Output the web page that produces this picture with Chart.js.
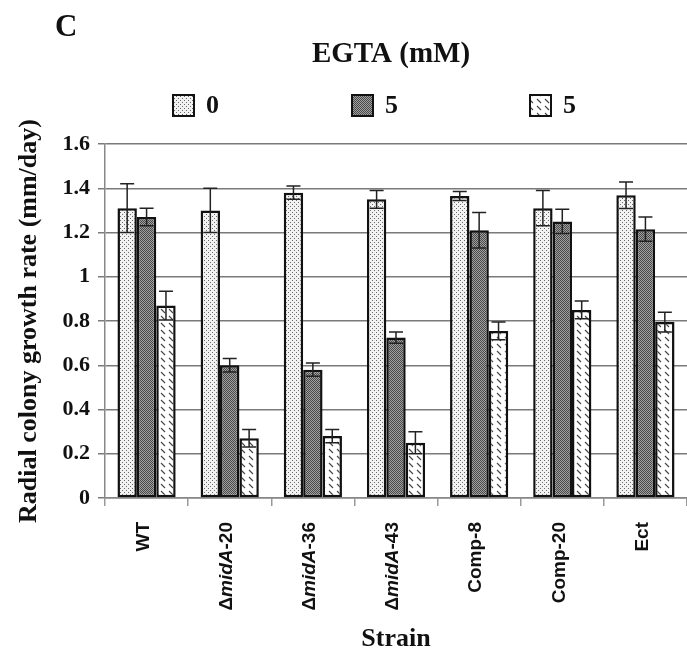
<!DOCTYPE html>
<html>
<head>
<meta charset="utf-8">
<script src="https://cdn.jsdelivr.net/npm/chart.js@4.4.1/dist/chart.umd.min.js"></script>
<style>
  html, body { margin: 0; padding: 0; background: #fff; }
  #wrap { width: 687px; height: 663px; position: relative; }
</style>
</head>
<body>
<div id="wrap"><canvas id="chart"></canvas></div>
<script>
/* Radial colony growth vs EGTA, panel C */
const strains = ['WT', 'ΔmidA-20', 'ΔmidA-36', 'ΔmidA-43', 'Comp-8', 'Comp-20', 'Ect'];
const legendLabels = ['0', '5', '5'];

const egta0 = [1.31, 1.30, 1.38, 1.35, 1.365, 1.31, 1.368];
const egta5a = [1.27, 0.60, 0.58, 0.725, 1.21, 1.25, 1.215];
const egta5b = [0.87, 0.27, 0.28, 0.25, 0.755, 0.85, 0.795];

const err0 = [0.11, 0.10, 0.03, 0.04, 0.02, 0.08, 0.06];
const err5a = [0.04, 0.03, 0.03, 0.025, 0.08, 0.055, 0.055];
const err5b = [0.065, 0.04, 0.03, 0.05, 0.04, 0.04, 0.045];

const yTicks = [0, 0.2, 0.4, 0.6, 0.8, 1, 1.2, 1.4, 1.6];

const SERIF = '"Liberation Serif", "Times New Roman", serif';
const SANS = '"Liberation Sans", Arial, sans-serif';

function makePattern(kind) {
    const c = document.createElement('canvas');
    const ctx = c.getContext('2d');
    if (kind === 'light') {
        c.width = 4; c.height = 4;
        ctx.fillStyle = '#f2f2f2';
        ctx.fillRect(0, 0, 4, 4);
        ctx.fillStyle = '#6a6a6a';
        ctx.fillRect(0, 0, 1, 1);
        ctx.fillRect(2, 2, 1, 1);
    } else if (kind === 'dark') {
        c.width = 2; c.height = 2;
        ctx.fillStyle = '#a0a0a0';
        ctx.fillRect(0, 0, 2, 2);
        ctx.fillStyle = '#4a4a4a';
        ctx.fillRect(0, 0, 1, 1);
        ctx.fillRect(1, 1, 1, 1);
    } else {
        c.width = 8; c.height = 7;
        ctx.fillStyle = '#ffffff';
        ctx.fillRect(0, 0, 8, 7);
        ctx.strokeStyle = '#444';
        ctx.lineWidth = 1.1;
        ctx.beginPath();
        ctx.moveTo(1, 1);
        ctx.lineTo(5, 5);
        ctx.stroke();
    }
    return ctx.createPattern(c, 'repeat');
}

const fills = [makePattern('light'), makePattern('dark'), makePattern('hatch')];
const seriesValues = [egta0, egta5a, egta5b];
const seriesErrors = [err0, err5a, err5b];

const headerPlugin = {
    id: 'header',
    afterDraw(chart) {
        const ctx = chart.ctx;
        ctx.save();
        ctx.fillStyle = '#111';
        ctx.textBaseline = 'middle';
        ctx.font = 'bold 31px ' + SERIF;
        ctx.textAlign = 'left';
        ctx.fillText('C', 55, 28);
        ctx.font = 'bold 29px ' + SERIF;
        ctx.textAlign = 'center';
        ctx.fillText('EGTA (mM)', 391, 55);

        const boxX = [173, 352, 530];
        const boxY = 95, box = 21;
        ctx.font = 'bold 26px ' + SERIF;
        ctx.textAlign = 'left';
        chart.data.datasets.forEach((ds, i) => {
            ctx.fillStyle = ds.backgroundColor;
            ctx.fillRect(boxX[i], boxY, box, box);
            ctx.strokeStyle = '#111';
            ctx.lineWidth = 2;
            ctx.strokeRect(boxX[i], boxY, box, box);
            ctx.fillStyle = '#111';
            ctx.fillText(ds.label, boxX[i] + 33, boxY + box / 2 + 1);
        });
        ctx.restore();
    }
};

const errorBarPlugin = {
    id: 'errorBars',
    afterDatasetsDraw(chart) {
        const ctx = chart.ctx;
        const y = chart.scales.y;
        ctx.save();
        ctx.strokeStyle = '#222';
        ctx.lineWidth = 1.5;
        chart.data.datasets.forEach((ds, i) => {
            const meta = chart.getDatasetMeta(i);
            meta.data.forEach((bar, j) => {
                const v = ds.data[j], e = seriesErrors[i][j];
                const top = y.getPixelForValue(v + e);
                const bot = y.getPixelForValue(v - e);
                ctx.beginPath();
                ctx.moveTo(bar.x, top);
                ctx.lineTo(bar.x, bot);
                ctx.moveTo(bar.x - 7, top);
                ctx.lineTo(bar.x + 7, top);
                ctx.moveTo(bar.x - 7, bot);
                ctx.lineTo(bar.x + 7, bot);
                ctx.stroke();
            });
        });
        ctx.restore();
    }
};

const xLabelPlugin = {
    id: 'xLabels',
    afterDraw(chart) {
        const ctx = chart.ctx;
        const xs = chart.scales.x;
        const yTop = xs.top + 24;
        ctx.save();
        ctx.fillStyle = '#111';
        ctx.textBaseline = 'middle';
        ctx.textAlign = 'left';
        const normal = 'bold 19px ' + SANS;
        const italic = 'italic bold 19px ' + SANS;
        strains.forEach((s, i) => {
            let parts;
            if (s.startsWith('ΔmidA')) {
                parts = [['Δ', normal], ['midA', italic], [s.slice(5), normal]];
            } else {
                parts = [[s, normal]];
            }
            let w = 0;
            parts.forEach(p => { ctx.font = p[1]; w += ctx.measureText(p[0]).width; });
            const x = xs.getPixelForValue(i) - 3;
            ctx.save();
            ctx.translate(x, yTop);
            ctx.rotate(-Math.PI / 2);
            let pos = -w;
            parts.forEach(p => {
                ctx.font = p[1];
                ctx.fillText(p[0], pos, 0);
                pos += ctx.measureText(p[0]).width;
            });
            ctx.restore();
        });
        ctx.restore();
    }
};

const datasets = legendLabels.map((lab, i) => ({
    label: lab,
    data: seriesValues[i],
    backgroundColor: fills[i],
    borderColor: '#111',
    borderWidth: 2.5,
    borderSkipped: false,
    categoryPercentage: 0.7,
    barPercentage: 1.0,
}));

new Chart(document.getElementById('chart'), {
    type: 'bar',
    data: { labels: strains, datasets },
    plugins: [headerPlugin, errorBarPlugin, xLabelPlugin],
    options: {
        responsive: true,
        maintainAspectRatio: false,
        animation: false,
        devicePixelRatio: 1,
        layout: { padding: { left: 14, right: 0, top: 144, bottom: 8 } },
        plugins: {
            legend: { display: false },
            tooltip: { enabled: false },
        },
        scales: {
            x: {
                grid: { drawOnChartArea: false, color: '#999', lineWidth: 1.5, tickLength: 8, offset: true },
                border: { color: '#888', width: 1.5 },
                ticks: { display: false },
                title: { display: true, text: 'Strain', color: '#111', font: { family: SERIF, size: 26, weight: 'bold' }, padding: { top: 0, bottom: 0 } },
                afterFit(scale) { scale.height = 663 - 8 - 498; },
            },
            y: {
                min: 0,
                max: 1.6,
                afterBuildTicks(scale) { scale.ticks = yTicks.map(v => ({ value: v })); },
                grid: { color: '#7a7a7a', lineWidth: 1.5, tickLength: 7 },
                border: { color: '#888', width: 1.5 },
                ticks: { color: '#111', font: { family: SERIF, size: 22, weight: 'bold' }, padding: 8, callback: v => String(v) },
                title: { display: true, text: 'Radial colony growth rate (mm/day)', color: '#111', font: { family: SERIF, size: 26, weight: 'bold' }, padding: { top: 0, bottom: 4 } },
                afterFit(scale) { scale.width = 105 - 14; },
            }
        }
    }
});
</script>
</body>
</html>
